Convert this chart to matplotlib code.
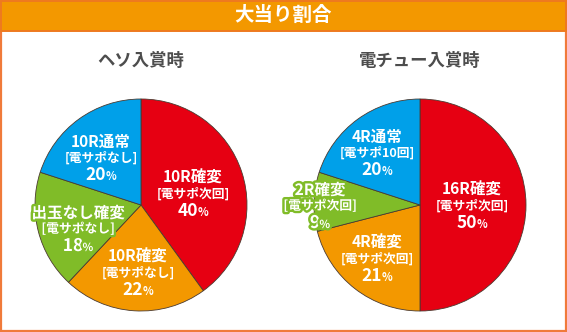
import matplotlib
matplotlib.use("Agg")
import matplotlib.pyplot as plt
from matplotlib.patches import Rectangle
from matplotlib.offsetbox import TextArea, HPacker, AnnotationBbox
import matplotlib.patheffects as pe

plt.rcParams['font.family'] = ['Noto Sans CJK JP', 'DejaVu Sans']

# Chart data
title = "大当り割合"
left_title = "ヘソ入賞時"
right_title = "電チュー入賞時"

left_names = ["10R確変", "10R確変", "出玉なし確変", "10R通常"]
left_notes = ["[電サポ次回]", "[電サポなし]", "[電サポなし]", "[電サポなし]"]
left_values = [40, 22, 18, 20]

right_names = ["16R確変", "4R確変", "2R確変", "4R通常"]
right_notes = ["[電サポ次回]", "[電サポ次回]", "[電サポ次回]", "[電サポ10回]"]
right_values = [50, 21, 9, 20]

colors = ["#E60012", "#F39800", "#80BC28", "#00A0E9"]

W, H = 567, 332
fig = plt.figure(figsize=(W / 100, H / 100), dpi=100)
ax = fig.add_axes([0, 0, 1, 1])


def py(y):
    # pixel row (top-down) to data y (bottom-up)
    return H - y


def draw_pie(values, cx, cy, r):
    ax.pie(values, colors=colors, startangle=90, counterclock=False,
           center=(cx, py(cy)), radius=r,
           wedgeprops=dict(edgecolor="#4a3a30", linewidth=0.6))


def label(x, y, name, note, value, stroke=None):
    effects = [pe.withStroke(linewidth=3.5, foreground=stroke)] if stroke else None
    kw = dict(color="white", fontweight="bold", ha="center", va="center",
              path_effects=effects)
    ax.text(x, py(y), name, fontsize=11.2, **kw)
    ax.text(x, py(y + 16), note, fontsize=9.2, **kw)
    num = TextArea(str(value), textprops=dict(color="white", fontweight="bold",
                                               fontsize=12.5, path_effects=effects))
    pct = TextArea("%", textprops=dict(color="white", fontweight="bold",
                                        fontsize=8, path_effects=effects))
    box = HPacker(children=[num, pct], align="baseline", pad=0, sep=-0.5)
    ab = AnnotationBbox(box, (x, py(y + 33)), frameon=False, box_alignment=(0.5, 0.5))
    ax.add_artist(ab)


r = 106
draw_pie(left_values, 141, 205, r)
draw_pie(right_values, 420, 205, r)

ax.set_xlim(0, W)
ax.set_ylim(0, H)
ax.set_aspect("auto")
ax.axis("off")

# Outer frame and header band
ax.add_patch(Rectangle((1, 1), W - 2, H - 2, fill=False, edgecolor="#F07A3A",
                       linewidth=1.6, zorder=5))
ax.add_patch(Rectangle((1, py(31)), W - 2, 30, facecolor="#F39800",
                       edgecolor="#EE7A1F", linewidth=1.4, zorder=6))
ax.text(W / 2, py(15), title, color="white", fontsize=14, fontweight="bold",
        ha="center", va="center", zorder=7)

ax.text(141, py(61), left_title, color="#4d4d4d", fontsize=12.5, fontweight="bold",
        ha="center", va="center")
ax.text(420, py(61), right_title, color="#4d4d4d", fontsize=12.5, fontweight="bold",
        ha="center", va="center")

# Slice labels (left pie)
left_pos = [(193, 178), (138, 257), (78, 213), (101, 142)]
for (x, y), n, t, v, c in zip(left_pos, left_names, left_notes, left_values, colors):
    label(x, y, n, t, v, stroke=c if c == "#80BC28" else None)

# Slice labels (right pie)
right_pos = [(472, 190), (377, 243), (320, 190), (377, 137)]
for (x, y), n, t, v, c in zip(right_pos, right_names, right_notes, right_values, colors):
    label(x, y, n, t, v, stroke=c if c == "#80BC28" else None)

fig.savefig("out.png", dpi=100)
